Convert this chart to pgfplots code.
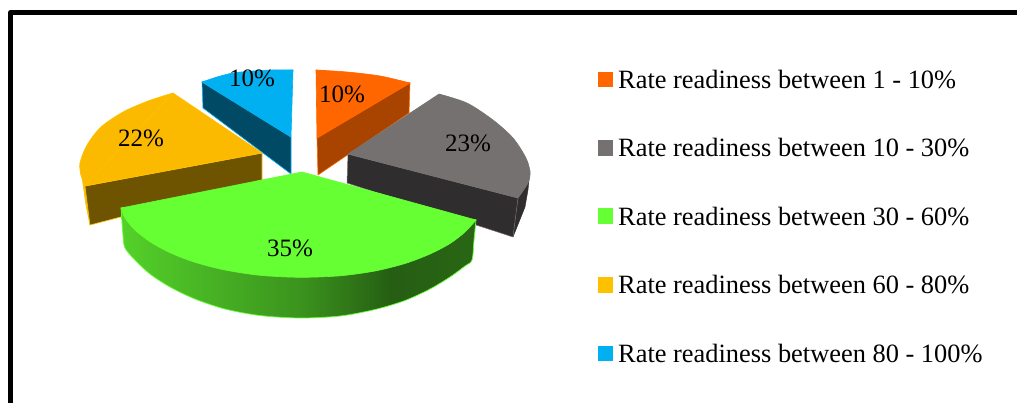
\documentclass[border=0pt]{standalone}
\usepackage{fontspec}
\setmainfont{Liberation Serif}
\usepackage{pgfplots}
\pgfplotsset{compat=1.18}
\definecolor{cOr}{HTML}{FF6600}
\definecolor{cOrD}{HTML}{A84400}
\definecolor{cGr}{HTML}{767171}
\definecolor{cGrD}{HTML}{302D2E}
\definecolor{cLi}{HTML}{66FF33}
\definecolor{cYe}{HTML}{FBBA00}
\definecolor{cYeL}{HTML}{FFC000}
\definecolor{cYeD}{HTML}{6E5300}
\definecolor{cBl}{HTML}{00B0F0}
\definecolor{cBlD}{HTML}{004A66}
\pgfdeclarehorizontalshading{greenside}{100bp}{
 color(0bp)=(cLi!82!black); color(25bp)=(cLi!82!black); color(50bp)=(cLi!58!black); color(63bp)=(cLi!37!black); color(75bp)=(cLi!40!black); color(100bp)=(cLi!40!black)}
\newcommand{\lab}[3]{\node[anchor=base,inner sep=0pt,font=\fontsize{25}{28}\selectfont] at (axis cs:#1,#2) {#3};}
\newcommand{\leg}[2]{\node[anchor=base west,inner sep=0pt,font=\fontsize{26.4}{30}\selectfont] at (axis cs:618,#1) {#2};}
\begin{document}
\begin{tikzpicture}
\begin{axis}[scale only axis,width=1017pt,height=403pt,xmin=0,xmax=1017,ymin=0,ymax=403,y dir=reverse,axis lines=none,line join=round]
% page area
\addplot[draw=none,fill=white] coordinates {(0,0)(1017,0)(1017,403)(0,403)} --cycle;
% frame
\addplot[black,line width=5pt,line join=round] coordinates {(10.5,410)(10.5,12.5)(1030,12.5)};
% blue
\addplot[draw=cBl,line width=.6pt,fill=cBlD] coordinates {(202,82)(291,137)(291,174)(203,108)} --cycle;
\addplot[draw=cBl,line width=.6pt,fill=cBl,smooth] coordinates {(202,82)(217,77)(233,73)(253,71)(273,70)(293,70)} --cycle;
\addplot[draw=cBl,line width=.6pt,fill=cBl] coordinates {(202,82)(293,70)(291,137)} --cycle;
% orange
\addplot[draw=cOr,line width=.6pt,fill=cOrD] coordinates {(410,83)(409,113)(318,175)(317,138)} --cycle;
\addplot[draw=cOr,line width=.6pt,fill=cOr,smooth] coordinates {(316,70)(347,72)(380,76)(410,83)} --cycle;
\addplot[draw=cOr,line width=.6pt,fill=cOr] coordinates {(316,70)(410,83)(317,138)} --cycle;
% grey
\addplot[draw=cGrD,line width=.4pt,fill=cGrD] coordinates {(530,170)(528,183)(518,198)(513,237)(525,207)(528,190)} --cycle;
\addplot[draw=cGr,line width=.5pt,fill=cGrD] coordinates {(348,154)(518,198)(513,237)(347,183)} --cycle;
\addplot[draw=cGr,line width=.5pt,fill=cGr,smooth] coordinates {(439,94)(467,103)(493,120)(513,138)(526,158)(530,172)(528,183)(518,198)} --cycle;
\addplot[draw=cGr,line width=.5pt,fill=cGr] coordinates {(348,154)(439,94)(518,198)} --cycle;
% yellow
\addplot[draw=cYeL,line width=.6pt,fill=cYe] coordinates {(80,163)(81,175)(85,186)(90,225)(86,205)} --cycle;
\addplot[draw=cYeL,line width=.6pt,fill=cYeD] coordinates {(85,186)(262,153)(262,180)(90,225)} --cycle;
\addplot[draw=cYeL,line width=.6pt,fill=cYe,smooth] coordinates {(173,93)(148,101)(123,112)(101,127)(87,145)(80,163)(81,175)(85,186)} --cycle;
\addplot[draw=cYeL,line width=.6pt,fill=cYe] coordinates {(262,153)(173,93)(85,186)} --cycle;
% green
\addplot[draw=cLi,line width=.7pt,shading=greenside,smooth] coordinates {(121,208)(123,235)(125,248)(135,260)(150,274)(170,287)(195,299)(225,309)(260,315.5)(300,318)(340,316)(375,309.5)(405,300.5)(430,289)(450,277)(465,266)(472,260)(474,240)(476,220)} --cycle;
\addplot[draw=cLi,line width=.6pt,fill=cLi,smooth] coordinates {(121,208)(125,218)(135,230)(150,241.7)(170,252.7)(195,262.3)(225,270)(260,275.3)(300,277.3)(340,275.8)(375,271)(405,263.5)(430,254)(450,243.5)(465,232)(476,220)} --cycle;
\addplot[draw=cLi,line width=.6pt,fill=cLi] coordinates {(302,172)(121,208)(476,220)} --cycle;
% legend keys
\addplot[draw=none,fill=cOr] coordinates {(598,72)(613,72)(613,87)(598,87)} --cycle;
\addplot[draw=none,fill=cGr] coordinates {(598,140)(613,140)(613,156)(598,156)} --cycle;
\addplot[draw=none,fill=cLi] coordinates {(598,208)(613,208)(613,224)(598,224)} --cycle;
\addplot[draw=none,fill=cYeL] coordinates {(598,277)(613,277)(613,293)(598,293)} --cycle;
\addplot[draw=none,fill=cBl] coordinates {(598,346)(613,346)(613,361)(598,361)} --cycle;
\lab{342}{103}{10\%}
\lab{468}{152}{23\%}
\lab{290}{257}{35\%}
\lab{141}{147}{22\%}
\lab{252}{87}{10\%}
\leg{89}{Rate readiness between 1 - 10\%}
\leg{157}{Rate readiness between 10 - 30\%}
\leg{226}{Rate readiness between 30 - 60\%}
\leg{294}{Rate readiness between 60 - 80\%}
\leg{362.5}{Rate readiness between 80 - 100\%}
\end{axis}
\end{tikzpicture}
\end{document}
